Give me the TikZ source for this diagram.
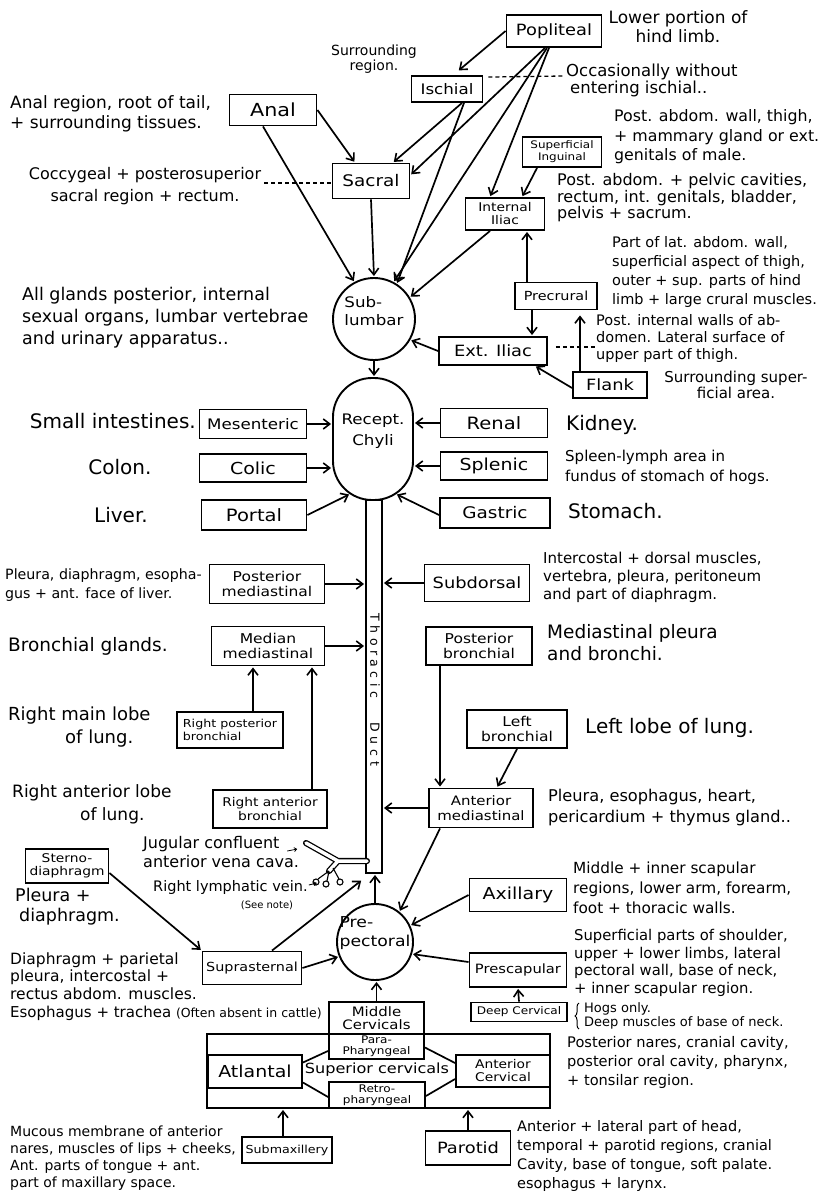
\documentclass[tikz,border=0pt]{standalone}
\usepackage{fontspec}
\usetikzlibrary{arrows.meta,calc,decorations.pathreplacing}
\newfontfamily\hand{DejaVu Sans}
\newfontfamily\handw[FakeStretch=1.15]{DejaVu Sans}
\newcommand\fsz[2]{\fontsize{#1pt}{#2pt}\selectfont}
\begin{document}
\begin{tikzpicture}[x=1pt,y=-1pt,
  box/.style={draw, line width=1.9pt, inner sep=0pt, align=center},
  arr/.style={line width=1.7pt, -{Straight Barb[length=6.5pt,width=10pt,line width=1.6pt]}, shorten >=1pt},
  tiny/.style={line width=0.8pt, -{Straight Barb[length=2.5pt,width=4pt]}},
  link/.style={line width=1.7pt},
  dsh/.style={line width=1.3pt, dash pattern=on 4pt off 3pt},
  desc/.style={anchor=west, align=left, inner sep=0pt},
  descc/.style={anchor=center, align=center, inner sep=0pt},
]
\useasboundingbox (0,0) rectangle (825,1198);
\fill[white] (0,0) rectangle (825,1198);

% ---------- top boxes ----------
\node[box, minimum width=95, minimum height=32, font={\handw\fsz{15.5}{17}}] (pop) at (554,31) {Popliteal};
\node[box, minimum width=71, minimum height=26, font={\handw\fsz{14.5}{16}}] (isc) at (447,89) {Ischial};
\node[box, minimum width=87, minimum height=31, font={\handw\fsz{18}{19}}] (anal) at (273,110) {Anal};
\node[box, minimum width=77, minimum height=35, font={\handw\fsz{16}{17}}] (sac) at (371,181) {Sacral};
\node[box, minimum width=79, minimum height=30, font={\handw\fsz{10.4}{12}}] (sing) at (562,152) {Superficial\\Inguinal};
\node[box, minimum width=79, minimum height=32, font={\handw\fsz{12}{13}}] (iil) at (505,214) {Internal\\Iliac};
\node[box, minimum width=82, minimum height=27, font={\handw\fsz{12.5}{14}}] (prec) at (556,296) {Precrural};
\node[box, minimum width=108, minimum height=28, font={\handw\fsz{15.5}{17}}] (exil) at (493,351) {Ext. Iliac};
\node[box, minimum width=74, minimum height=26, font={\handw\fsz{15.5}{17}}] (flank) at (610,385) {Flank};
\node[draw, circle, line width=1.9pt, minimum size=82, inner sep=0pt] (sub) at (374,319) {};
\node[font={\handw\fsz{14.5}{18}}, align=left, inner sep=0pt] (subt) at (374,311) {Sub-\\lumbar};

% ---------- receptaculum and duct ----------
\node[draw, line width=1.9pt, rounded corners=39pt, minimum width=80, minimum height=122, inner sep=0pt] (rc) at (373,439) {};
\node[font={\handw\fsz{14.5}{21}}, align=center, inner sep=0pt] (rct) at (373,431) {Recept.\\Chyli};
\node[draw, line width=1.9pt, minimum width=16, minimum height=373, inner sep=0pt] (td) at (374,686.5) {};
\node[rotate=-90, font={\hand\fsz{12.5}{13}}, inner sep=0pt] (tdt) at (375,690) {T\kern4.5pt h\kern4.5pt o\kern4.5pt r\kern4.5pt a\kern4.5pt c\kern4.5pt i\kern4.5pt c\hspace{24pt}D\kern5pt u\kern5pt c\kern5pt t};

% ---------- abdominal rows ----------
\node[box, minimum width=107, minimum height=29, font={\handw\fsz{14.5}{16}}] (mes) at (253,424) {Mesenteric};
\node[box, minimum width=107, minimum height=28, font={\handw\fsz{16.5}{18}}] (colic) at (253,468) {Colic};
\node[box, minimum width=105, minimum height=30, font={\handw\fsz{17}{19}}] (portal) at (254,515) {Portal};
\node[box, minimum width=107, minimum height=29, font={\handw\fsz{17}{19}}] (renal) at (494,423) {Renal};
\node[box, minimum width=107, minimum height=28, font={\handw\fsz{16.5}{18}}] (splenic) at (494,466) {Splenic};
\node[box, minimum width=110, minimum height=30, font={\handw\fsz{16}{18}}] (gastric) at (495,513) {Gastric};

% ---------- thoracic boxes ----------
\node[box, minimum width=115, minimum height=39, font={\handw\fsz{13.5}{15}}] (pmed) at (267,584) {Posterior\\mediastinal};
\node[box, minimum width=105, minimum height=37, font={\handw\fsz{15.5}{17}}] (subd) at (477,583) {Subdorsal};
\node[box, minimum width=113, minimum height=39, font={\handw\fsz{13.5}{15}}] (mmed) at (268,646) {Median\\mediastinal};
\node[box, minimum width=106, minimum height=38, font={\handw\fsz{13.5}{15}}] (pbr) at (479,646) {Posterior\\bronchial};
\node[box, minimum width=106, minimum height=36, align=left, font={\handw\fsz{11}{13}}] (rpb) at (230,730) {Right posterior\\bronchial};
\node[box, minimum width=114, minimum height=38, font={\handw\fsz{12}{14}}] (rab) at (270,809) {Right anterior\\bronchial};
\node[box, minimum width=100, minimum height=38, font={\handw\fsz{13.5}{15}}] (lbr) at (517,729) {Left\\bronchial};
\node[box, minimum width=104, minimum height=39, font={\handw\fsz{13}{15}}] (amed) at (481,808) {Anterior\\mediastinal};

% ---------- prepectoral group ----------
\node[draw, circle, line width=1.9pt, minimum size=76, inner sep=0pt] (pre) at (375,942) {};
\node[font={\handw\fsz{15}{19}}, align=left, inner sep=0pt] (pret) at (375,933) {Pre-\\pectoral};
\node[box, minimum width=97, minimum height=33, font={\handw\fsz{16.5}{18}}] (axil) at (518,895) {Axillary};
\node[box, minimum width=97, minimum height=34, font={\handw\fsz{12.8}{15}}] (presc) at (518,970) {Prescapular};
\node[box, minimum width=96, minimum height=19, font={\handw\fsz{10.5}{12}}] (deep) at (519,1012) {Deep Cervical};
\node[box, minimum width=99, minimum height=33, font={\handw\fsz{12.5}{14}}] (supra) at (252,968) {Suprasternal};
\node[box, minimum width=83, minimum height=34, font={\handw\fsz{12}{13}}] (sdia) at (67,866) {Sterno-\\diaphragm};

% ---------- cervical group ----------
\node[box, minimum width=343, minimum height=74] (cerv) at (378.5,1071) {};
\node[box, minimum width=95, minimum height=32, font={\handw\fsz{13}{13.5}}] (midc) at (376.5,1018) {Middle\\Cervicals};
\node[box, minimum width=95, minimum height=25, font={\handw\fsz{10.5}{11}}] (para) at (376.5,1046.5) {Para-\\Pharyngeal};
\node[box, minimum width=94, minimum height=33, font={\handw\fsz{16.5}{18}}] (atl) at (255,1071.5) {Atlantal};
\node[box, minimum width=96, minimum height=26, font={\handw\fsz{10.5}{11}}] (retro) at (377,1095) {Retro-\\pharyngeal};
\node[box, minimum width=94, minimum height=32, font={\handw\fsz{12}{13}}] (ac) at (503,1071) {Anterior\\Cervical};
\node[font={\handw\fsz{14}{16}}, inner sep=0pt] (supc) at (377,1070) {Superior cervicals};
\node[box, minimum width=90, minimum height=26, font={\handw\fsz{11}{13}}] (submax) at (287,1150) {Submaxillery};
\node[box, minimum width=85, minimum height=34, font={\handw\fsz{15.5}{17}}] (parotid) at (468,1148) {Parotid};

% ---------- descriptions ----------
\node[descc, font={\hand\fsz{17}{19}}] (tlower) at (678,27) {Lower portion of\\hind limb.};
\node[descc, font={\hand\fsz{14}{15}}] (tsurr) at (374,59) {Surrounding\\region.};
\node[desc, font={\hand\fsz{16.5}{17}}] (tocc) at (566,80) {Occasionally without\\\hspace*{4pt}entering ischial..};
\node[desc, font={\hand\fsz{17}{20}}] (tanal) at (10,114) {Anal region, root of tail,\\+ surrounding tissues.};
\node[descc, font={\hand\fsz{16}{22}}] (tcocc) at (145,186) {Coccygeal + posterosuperior\\sacral region + rectum.};
\node[desc, font={\hand\fsz{15.8}{19.5}}] (tpostab) at (614,137) {Post. abdom. wall, thigh,\\+ mammary gland or ext.\\genitals of male.};
\node[desc, font={\hand\fsz{16}{16.5}}] (tpelvic) at (557,198) {Post. abdom. + pelvic cavities,\\rectum, int. genitals, bladder,\\pelvis + sacrum.};
\node[desc, font={\hand\fsz{14.5}{19}}] (tlat) at (612,272) {Part of lat. abdom. wall,\\superficial aspect of thigh,\\outer + sup. parts of hind\\limb + large crural muscles.};
\node[desc, font={\hand\fsz{14.5}{17}}] (tpostint) at (596,338) {Post. internal walls of ab-\\domen. Lateral surface of\\upper part of thigh.};
\node[descc, font={\hand\fsz{15}{16}}] (tsurrsup) at (736,385) {Surrounding super-\\ficial area.};
\node[desc, font={\hand\fsz{17.5}{22}}] (tall) at (22,318) {All glands posterior, internal\\sexual organs, lumbar vertebrae\\and urinary apparatus..};
\node[anchor=east, inner sep=0pt, font={\hand\fsz{20}{22}}] (tsmall) at (196,421) {Small intestines.};
\node[descc, font={\hand\fsz{20}{22}}] (tcolon) at (120,467) {Colon.};
\node[descc, font={\hand\fsz{20}{22}}] (tliver) at (121,515) {Liver.};
\node[desc, font={\hand\fsz{20}{22}}] (tkidney) at (566,425) {Kidney.};
\node[desc, font={\hand\fsz{15}{20}}] (tspleen) at (565,467) {Spleen-lymph area in\\fundus of stomach of hogs.};
\node[desc, font={\hand\fsz{20}{22}}] (tstomach) at (568,511) {Stomach.};
\node[desc, font={\hand\fsz{14.2}{19}}] (tpleura1) at (5,585) {Pleura, diaphragm, esopha-\\gus + ant. face of liver.};
\node[desc, font={\hand\fsz{15}{18}}] (tinter) at (543,577) {Intercostal + dorsal muscles,\\vertebra, pleura, peritoneum\\and part of diaphragm.};
\node[desc, font={\hand\fsz{18.5}{22}}] (tbronch) at (8,646) {Bronchial glands.};
\node[desc, font={\hand\fsz{18.5}{22}}] (tmedi) at (547,643) {Mediastinal pleura\\and bronchi.};
\node[desc, font={\hand\fsz{18}{23}}] (trmain) at (8,727) {Right main lobe\\\hspace*{57pt}of lung.};
\node[desc, font={\hand\fsz{20}{22}}] (tleft) at (585,728) {Left lobe of lung.};
\node[desc, font={\hand\fsz{17}{23}}] (trant) at (12,804) {Right anterior lobe\\\hspace*{68pt}of lung.};
\node[desc, font={\hand\fsz{16.2}{21}}] (tpleura2) at (548,808) {Pleura, esophagus, heart,\\pericardium + thymus gland..};
\node[desc, font={\hand\fsz{16}{19}}] (tjug) at (143,852) {Jugular confluent\\anterior vena cava.};
\node[desc, font={\hand\fsz{14.5}{16}}] (trlv) at (153,887) {Right lymphatic vein.};
\node[descc, font={\hand\fsz{10}{12}}] (tsee) at (267,905) {(See note)};
\node[desc, font={\hand\fsz{17.5}{20}}] (tpleura3) at (15,907) {Pleura +\\\hspace*{4pt}diaphragm.};
\node[desc, font={\hand\fsz{15.5}{17.5}}] (tdia) at (10,976) {Diaphragm + parietal\\pleura, intercostal +\\rectus abdom. muscles.};
\node[desc, font={\hand\fsz{15}{17}}] (tesoph) at (10,1013) {Esophagus + trachea {\fsz{12.5}{14}(Often absent in cattle)}};
\node[desc, font={\hand\fsz{15.3}{20}}] (tmid) at (573,888) {Middle + inner scapular\\regions, lower arm, forearm,\\foot + thoracic walls.};
\node[desc, font={\hand\fsz{14.8}{17.8}}] (tsup) at (574,963) {Superficial parts of shoulder,\\upper + lower limbs, lateral\\pectoral wall, base of neck,\\+ inner scapular region.};
\node[desc, font={\hand\fsz{13}{14.5}}] (thogs) at (584,1016) {Hogs only.\\Deep muscles of base of neck.};
\node[desc, font={\hand\fsz{14.6}{19}}] (tpost) at (567,1062) {Posterior nares, cranial cavity,\\posterior oral cavity, pharynx,\\+ tonsilar region.};
\node[desc, font={\hand\fsz{14}{17}}] (tmuc) at (10,1158) {Mucous membrane of anterior\\nares, muscles of lips + cheeks,\\Ant. parts of tongue + ant.\\part of maxillary space.};
\node[desc, font={\hand\fsz{14.5}{19}}] (tantl) at (517,1156) {Anterior + lateral part of head,\\temporal + parotid regions, cranial\\Cavity, base of tongue, soft palate.\\esophagus + larynx.};

% ---------- connectors: pelvic region ----------
\draw[arr] (pop.west) -- ($(isc.north)+(11,-4)$);
\draw[arr] ($(pop.south)+(-9,0)$) -- ($(sac.east)+(0,-6)$);
\draw[arr] ($(pop.south)+(-7,0)$) -- (sub.62);
\draw[arr] ($(pop.south)+(-5,0)$) -- ($(iil.north)+(-15,0)$);
\draw[arr] ($(isc.south)+(15,0)$) -- ($(sac.north)+(22,0)$);
\draw[arr] ($(isc.south)+(17,0)$) -- (sub.57);
\draw[arr] (anal.east) -- ($(sac.north)+(-16,0)$);
\draw[arr] ($(anal.south)+(-10,0)$) -- (sub.118);
\draw[arr] (sac.south) -- (sub.north);
\draw[arr] ($(sing.south)+(-25,0)$) -- ($(iil.north)+(17,0)$);
\draw[arr] ($(iil.south)+(-15,0)$) -- (sub.31);
\draw[arr] ($(prec.north)+(-29,0)$) -- ($(iil.south)+(22,0)$);
\draw[arr] ($(prec.south)+(-24,0)$) -- ($(exil.north)+(39,0)$);
\draw[arr] ($(flank.north)+(-30,0)$) -- ($(prec.south)+(24,4)$);
\draw[arr] ($(flank.west)+(0,3)$) -- ($(exil.south)+(42,0)$);
\draw[arr] (exil.west) -- (sub.-30);
\draw[arr] (sub.south) -- (sub.south |- rc.north);

% dashed leaders
\draw[dsh] ($(isc.north east)+(5,2)$) -- ($(tocc.west)+(-2,-4)$);
\draw[dsh] ($(tcocc.east)+(3,-3)$) -- ($(sac.west)+(0,2)$);
\draw[dsh] ($(exil.east)+(8,-4)$) -- ($(tpostint.west)+(0,9)$);

% ---------- abdominal connectors ----------
\coordinate (rcbl) at (350,494);
\coordinate (rcbr) at (396,494);
\draw[arr] (mes.east) -- (mes.east -| rc.west);
\draw[arr] (colic.east) -- (colic.east -| rc.west);
\draw[arr] (portal.east) -- (rcbl);
\draw[arr] (renal.west) -- (renal.west -| rc.east);
\draw[arr] (splenic.west) -- (splenic.west -| rc.east);
\draw[arr] ($(gastric.west)+(0,2)$) -- (rcbr);

% ---------- thoracic connectors ----------
\draw[arr] (pmed.east) -- (pmed.east -| td.west);
\draw[arr] (subd.west) -- (subd.west -| td.east);
\draw[arr] (mmed.east) -- (mmed.east -| td.west);
\draw[arr] ($(rpb.north)+(23,0)$) -- ($(mmed.south)+(-15,0)$);
\draw[arr] ($(rab.north)+(42,0)$) -- ($(mmed.south)+(44,0)$);
\draw[arr] ($(pbr.south)+(-39,0)$) -- ($(amed.north)+(-41,0)$);
\draw[arr] (lbr.south) -- ($(amed.north)+(16,0)$);
\draw[arr] (amed.west) -- (amed.west -| td.east);
\draw[arr] ($(amed.south)+(-41,0)$) -- (pre.51);
\draw[arr] (pre.north) -- (pre.north |- td.south);

% ---------- lymphatic vein sketch ----------
\draw[line width=1.3pt, double=white, double distance=3.5pt, line cap=round]
  (367,861) -- (338,861) -- (306,843)
  (338,861) -- (329,871);
\draw[line width=1.1pt] (329,871) -- (318,879) (329,871) -- (327,881) (333,868) -- (339,879);
\draw[line width=1.1pt] (316,882) circle[radius=3pt] (326,884) circle[radius=3pt] (340,882) circle[radius=3pt];
\draw[tiny] ($(tjug.east)+(-12,-1)$) -- ++(10,-2);
\draw[tiny] ($(trlv.east)+(1,-2)$) -- ++(8,-2);

% ---------- prepectoral connectors ----------
\draw[arr] (axil.west) -- (pre.25);
\draw[arr] ($(presc.west)+(0,-8)$) -- (pre.-18);
\draw[arr] (deep.north) -- (presc.south);
\draw[arr] (midc.north) -- (midc.north |- pre.south);
\draw[arr] (supra.east) -- (pre.202);
\coordinate (rlvend) at (362,880);
\draw[arr] ($(supra.north)+(20,0)$) -- (rlvend);
\draw[arr] ($(sdia.east)+(0,7)$) -- (supra.north west);
\draw[line width=1pt, decorate, decoration={brace, amplitude=4pt}] (579,1029) -- (579,1003);

% ---------- cervical connectors ----------
\draw[link] ($(atl.east)+(0,-9)$) -- ($(para.south west)+(0,-9)$);
\draw[link] ($(atl.east)+(0,11)$) -- ($(retro.west)+(0,2)$);
\draw[link] ($(para.east)+(0,1)$) -- ($(ac.west)+(0,-8)$);
\draw[link] ($(retro.east)+(0,1)$) -- ($(ac.west)+(0,8)$);
\coordinate (smx) at ($(submax.north)+(-4,0)$);
\draw[arr] (smx) -- (smx |- cerv.south);
\draw[arr] (parotid.north) -- (parotid.north |- cerv.south);
\end{tikzpicture}
\end{document}
